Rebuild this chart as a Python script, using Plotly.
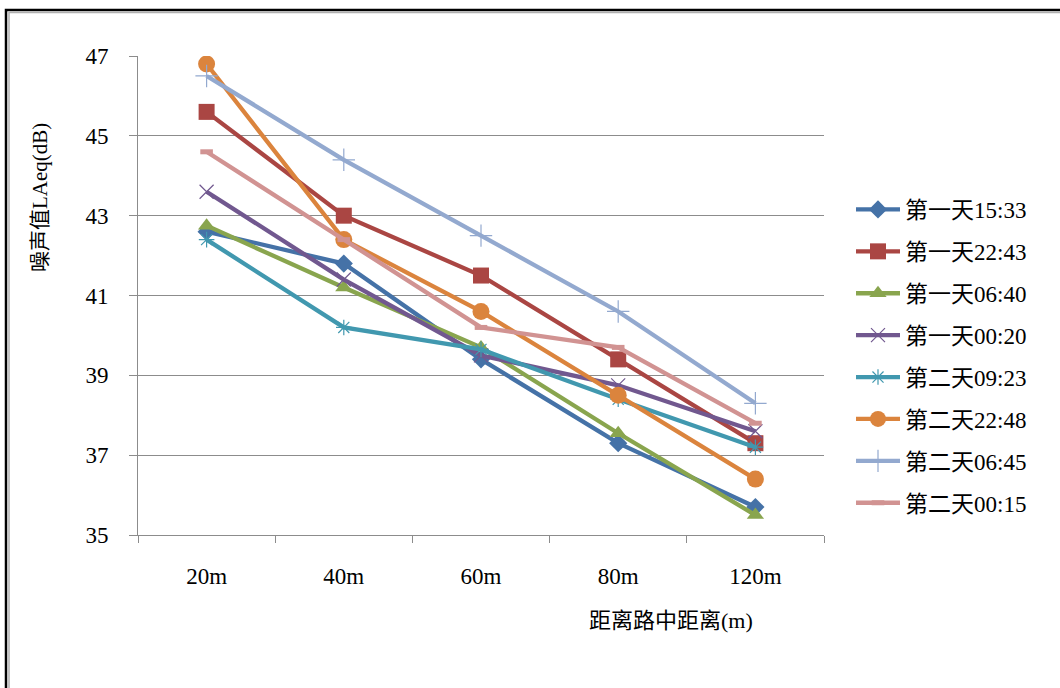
import plotly.graph_objects as go

categories = ["20m", "40m", "60m", "80m", "120m"]

s_d1_1533 = [42.6, 41.8, 39.4, 37.3, 35.7]
s_d1_2243 = [45.6, 43.0, 41.5, 39.4, 37.3]
s_d1_0640 = [42.75, 41.2, 39.7, 37.55, 35.5]
s_d1_0020 = [43.6, 41.4, 39.5, 38.75, 37.6]
s_d2_0923 = [42.4, 40.2, 39.65, 38.4, 37.2]
s_d2_2248 = [46.8, 42.4, 40.6, 38.5, 36.4]
s_d2_0645 = [46.5, 44.4, 42.5, 40.6, 38.3]
s_d2_0015 = [44.6, 42.4, 40.2, 39.7, 37.8]

series_names = ["第一天15:33", "第一天22:43", "第一天06:40", "第一天00:20",
                "第二天09:23", "第二天22:48", "第二天06:45", "第二天00:15"]
series_values = [s_d1_1533, s_d1_2243, s_d1_0640, s_d1_0020,
                 s_d2_0923, s_d2_2248, s_d2_0645, s_d2_0015]

y_ticks = [35, 37, 39, 41, 43, 45, 47]

colors = ["#4572A7", "#AA4643", "#89A54E", "#71588F",
          "#4198AF", "#DB843D", "#93A9CF", "#D19392"]
markers = [
    dict(symbol="diamond", size=14, line=dict(width=0)),
    dict(symbol="square", size=16, line=dict(width=0)),
    dict(symbol="triangle-up", size=15, line=dict(width=0)),
    dict(symbol="x-thin-open", size=14, line=dict(width=1.2, color="#9B87C0")),
    dict(symbol="asterisk-open", size=13, line=dict(width=1.2, color="#6CC5DC")),
    dict(symbol="circle", size=17, line=dict(width=0)),
    dict(symbol="cross-thin-open", size=16, line=dict(width=1.2, color="#8FAADC")),
    dict(symbol="line-ew-open", size=9, line=dict(width=5, color="#D19392")),
]

W, H = 1060, 688
# plot area in screenshot pixels
L, R, T, B = 138, 824, 56, 535

def px_x(p):
    return (p - L) / (R - L)

def px_y(p):
    return (B - p) / (B - T)

serif = "Liberation Serif, Times New Roman, Noto Sans CJK SC, serif"

fig = go.Figure()
for i, (name, vals) in enumerate(zip(series_names, series_values)):
    mk = dict(markers[i])
    mk["color"] = colors[i]
    fig.add_trace(go.Scatter(
        x=categories, y=vals, name=name, mode="lines+markers",
        line=dict(color=colors[i], width=4.3),
        marker=mk, legendgroup=name,
    ))

fig.update_layout(
    width=W, height=H,
    margin=dict(l=L, r=W - R, t=T, b=H - B),
    paper_bgcolor="white", plot_bgcolor="white",
    font=dict(family=serif, size=23, color="black"),
    showlegend=True,
    legend=dict(x=px_x(851), y=px_y(188), xanchor="left", yanchor="top",
                font=dict(family=serif, size=23, color="black"),
                tracegroupgap=9, itemwidth=44, bgcolor="rgba(0,0,0,0)"),
    xaxis=dict(type="category", range=[-0.5, 4.5], showline=True,
               linecolor="#8c8c8c", linewidth=1, ticks="outside",
               tickson="boundaries", ticklen=7, tickcolor="#8c8c8c",
               showgrid=False, tickfont=dict(size=23), zeroline=False,
               ticklabelstandoff=20),
    yaxis=dict(range=[35, 47], tickvals=y_ticks, showline=True,
               linecolor="#8c8c8c", linewidth=1, ticks="outside", ticklen=8,
               tickcolor="#8c8c8c", showgrid=True, gridcolor="#8c8c8c",
               gridwidth=1, tickfont=dict(size=23), zeroline=False,
               ticklabelstandoff=16),
)

fig.add_annotation(text="噪声值LAeq(dB)", xref="paper", yref="paper",
                   x=px_x(40), y=px_y(198), showarrow=False, textangle=-90,
                   font=dict(size=21, family=serif), xanchor="center", yanchor="middle")
fig.add_annotation(text="距离路中距离(m)", xref="paper", yref="paper",
                   x=px_x(671), y=px_y(620), showarrow=False,
                   font=dict(size=22, family=serif), xanchor="center", yanchor="middle")

# outer frame
fig.add_shape(type="rect", xref="paper", yref="paper",
              x0=px_x(6), x1=px_x(1090), y0=px_y(10), y1=px_y(720),
              line=dict(color="black", width=2.5))
fig.add_shape(type="rect", xref="paper", yref="paper",
              x0=px_x(9), x1=px_x(1090), y0=px_y(12.5), y1=px_y(720),
              line=dict(color="#b0b0b0", width=1.5))

fig.write_html("out.html",
               config={"displayModeBar": False},
               post_script="document.body.style.margin='0';document.body.style.overflow='hidden';")
